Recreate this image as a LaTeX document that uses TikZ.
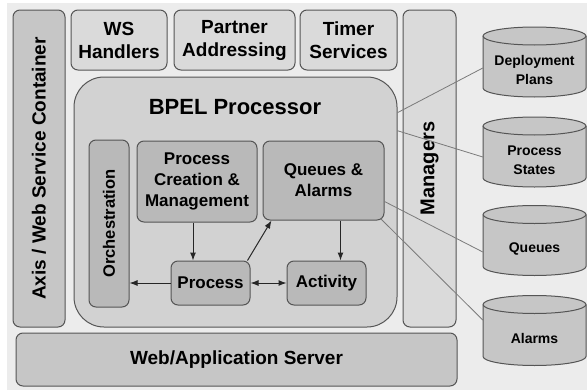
\documentclass[tikz,border=0pt]{standalone}
\usepackage{fontspec}
\setmainfont{Liberation Sans}
\usetikzlibrary{arrows.meta,calc,positioning}

\definecolor{paper}{HTML}{ECECEC}
\definecolor{rim}{HTML}{555555}
\definecolor{wire}{HTML}{7A7A7A}
\definecolor{light}{HTML}{DADADA}
\definecolor{mid}{HTML}{C6C6C6}
\definecolor{core}{HTML}{D2D2D2}
\definecolor{dark}{HTML}{B9B9B9}

\begin{document}
\begin{tikzpicture}[x=1pt, y=-1pt,
  box/.style={draw=rim, line width=1pt, rounded corners=7pt, align=center,
    inner sep=0pt, font=\bfseries\fontsize{19}{23}\selectfont},
  inbox/.style={box, fill=dark, font=\bfseries\fontsize{17}{21}\selectfont},
  drum/.style={draw=rim, line width=1pt, fill=mid},
  storetext/.style={align=center, inner sep=0pt, minimum width=103,
    font=\bfseries\fontsize{14}{19}\selectfont},
  flow/.style={draw=black!85, line width=1pt, -{Latex[length=8pt,width=6pt]}},
  twoway/.style={draw=black!85, line width=1pt,
    {Latex[length=8pt,width=6pt]}-{Latex[length=8pt,width=6pt]}},
  wired/.style={draw=wire, line width=0.8pt}]

  \useasboundingbox (0,0) rectangle (587,391);
  \fill [paper] (7,3) rectangle (587,390);

  \node [box, fill=mid, rotate=90, minimum width=317, minimum height=52]
    (axis) at (39,168.5) {Axis / Web Service Container};
  \node [box, fill=light, minimum width=96, minimum height=60]
    (ws) at (119,40) {WS\\Handlers};
  \node [box, fill=light, minimum width=121, minimum height=60]
    (partner) at (234.5,40) {Partner\\Addressing};
  \node [box, fill=light, minimum width=97, minimum height=60]
    (timer) at (348.5,40) {Timer\\Services};
  \node [box, fill=light, rotate=90, minimum width=317, minimum height=53,
    font=\bfseries\fontsize{20}{24}\selectfont] (mgr) at (429.5,168.5) {Managers};
  \node [box, fill=mid, minimum width=441, minimum height=53]
    (server) at (236.5,359.5) {Web/Application Server};

  \node [box, fill=core, rounded corners=30pt, minimum width=323, minimum height=250]
    (bpel) at (235.5,202) {};
  \node [font=\bfseries\fontsize{22}{26}\selectfont] (title) at (235,107) {BPEL Processor};

  \node [inbox, rotate=90, minimum width=167, minimum height=40,
    font=\bfseries\fontsize{16.5}{20}\selectfont] (orch) at (109,223.5) {Orchestration};
  \node [inbox, minimum width=120, minimum height=81] (pcm) at (197,181.5)
    {Process\\Creation \&\\Management};
  \node [inbox, minimum width=121, minimum height=79] (qa) at (323.5,180.5)
    {Queues \&\\Alarms};
  \node [inbox, minimum width=79, minimum height=44] (proc) at (210.5,283) {Process};
  \node [inbox, minimum width=79, minimum height=44] (act) at (326.5,283) {Activity};

  \foreach \cy/\db/\txt in {62/plans/{Deployment\\Plans}, 152/states/{Process\\States},
                            240.5/queues/{Queues}, 330.5/alarms/{Alarms}} {
    \filldraw [drum] (483,\cy-26) -- (483,\cy+26)
      arc [start angle=180, end angle=0, x radius=51.5, y radius=9] -- (586,\cy-26)
      arc [start angle=0, end angle=-180, x radius=51.5, y radius=9] -- cycle;
    \draw [drum, fill=none] (483,\cy-26)
      arc [start angle=180, end angle=0, x radius=51.5, y radius=9];
    \node [storetext] (\db) at (534.5,\cy+8) {\txt};
  }

  \coordinate (pcmout) at ($(pcm.south)+(-4,0)$);
  \coordinate (qaout) at ($(qa.south)+(17,0)$);

  \draw [flow] (pcmout) -- (pcmout |- proc.north) ;

  \draw [flow] (proc.west) -- (proc.west -| orch.south) ;

  \draw [twoway] (proc.east) -- (act.west) ;

  \draw [flow] ($(proc.north east)+(-3,0)$) -- ($(qa.south west)+(9,0)$) ;

  \draw [flow] (qaout) -- (qaout |- act.north) ;

  \path [wired] ($(bpel.north east)!0.144!(bpel.south east)$) edge ($(plans.west)+(0,-2)$) ;

  \path [wired] ($(bpel.north east)!0.216!(bpel.south east)$) edge ($(states.west)+(0,-3)$) ;

  \path [wired] ($(qa.east)+(0,21)$) edge ($(queues.west)+(0,3.5)$) ;

  \path [wired] ($(qa.south east)+(-4,-2)$) edge ($(alarms.west)+(0,-18.5)$) ;

\end{tikzpicture}
\end{document}
